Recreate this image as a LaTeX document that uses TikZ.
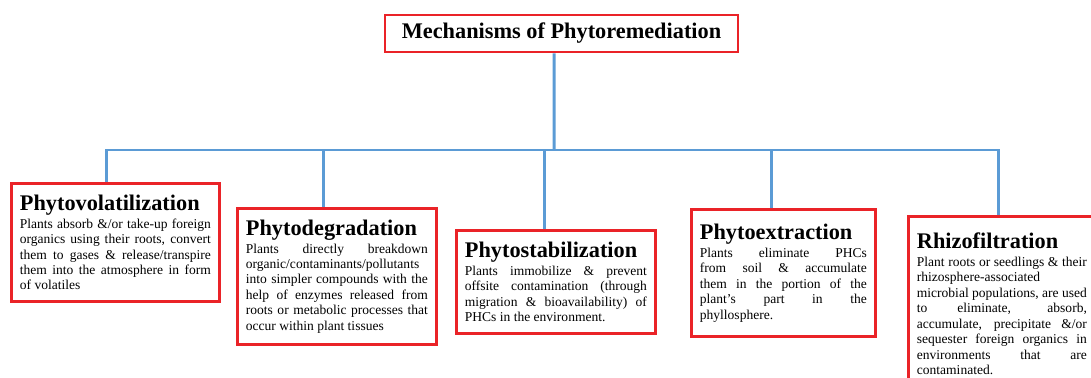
\documentclass[tikz,border=0pt]{standalone}
\usepackage{fontspec}
\setmainfont{Liberation Serif}
\definecolor{boxred}{RGB}{234,35,40}
\definecolor{linkblue}{RGB}{91,155,213}
\newcommand\headfont{\fontsize{12.7}{15}\selectfont\bfseries}
\newcommand\bodyfont{\fontsize{7.7}{8.8}\selectfont\parindent=0pt}

\tikzset{
  titlebox/.style={draw=boxred,line width=1.6pt,minimum width=7.06cm,minimum height=0.74cm,font=\headfont},
  mechbox/.style={draw=boxred,line width=1.6pt,anchor=north west,align=justify,inner xsep=0.17cm,font=\bodyfont},
  link/.style={draw=linkblue,line width=1.7pt}
}

\begin{document}
\begin{tikzpicture}[x=0.02cm,y=-0.02cm]
\useasboundingbox (0,0) rectangle (1091,378);
\coordinate (bus) at (554,150);

\node [titlebox] (mech) at (561.5,33.5) {Mechanisms of Phytoremediation};

\node [mechbox,text width=3.82cm,minimum height=2.36cm] (vol) at (10,182)
{
{\headfont Phytovolatilization}\par\vspace{1.4pt}
Plants absorb \&/or take-up foreign\linebreak
organics using their roots, convert\linebreak
them to gases \& release/transpire\linebreak
them into the atmosphere in form\linebreak
of volatiles
};

\node [mechbox,text width=3.64cm,minimum height=2.72cm] (deg) at (236,207)
{
{\headfont Phytodegradation}\par\vspace{1.4pt}
Plants directly breakdown\linebreak
organic/contaminants/pollutants\newline
into simpler compounds with the\linebreak
help of enzymes released from\linebreak
roots or metabolic processes that\linebreak
occur within plant tissues
};

\node [mechbox,text width=3.64cm,minimum height=2.06cm] (sta) at (455,229)
{
{\headfont Phytostabilization}\par\vspace{1.4pt}
Plants immobilize \& prevent\linebreak
offsite contamination (through\linebreak
migration \& bioavailability) of\linebreak
PHCs in the environment.
};

\node [mechbox,text width=3.34cm,minimum height=2.54cm] (ext) at (690,208)
{
{\headfont Phytoextraction}\par\vspace{1.4pt}
Plants eliminate PHCs\linebreak
from soil \& accumulate\linebreak
them in the portion of the\linebreak
plant’s part in the\linebreak
phyllosphere.
};

\node [mechbox,text width=3.4cm,minimum height=3.5cm] (rhi) at (907,215)
{
{\headfont Rhizofiltration}\par\vspace{1.4pt}
Plant roots or seedlings \& their\linebreak
rhizosphere-associated\newline
microbial populations, are used\linebreak
to eliminate, absorb,\linebreak
accumulate, precipitate \&/or\linebreak
sequester foreign organics in\linebreak
environments that are\linebreak
contaminated.
};

\draw [link] ([xshift=-0.15cm]mech.south) -- (bus);
\foreach \b/\s in {vol/-0.18cm,deg/-0.27cm,sta/-0.23cm,ext/-0.24cm,rhi/-0.06cm}
  \draw [link] ([xshift=\s]\b.north) |- (bus);
\end{tikzpicture}
\end{document}
